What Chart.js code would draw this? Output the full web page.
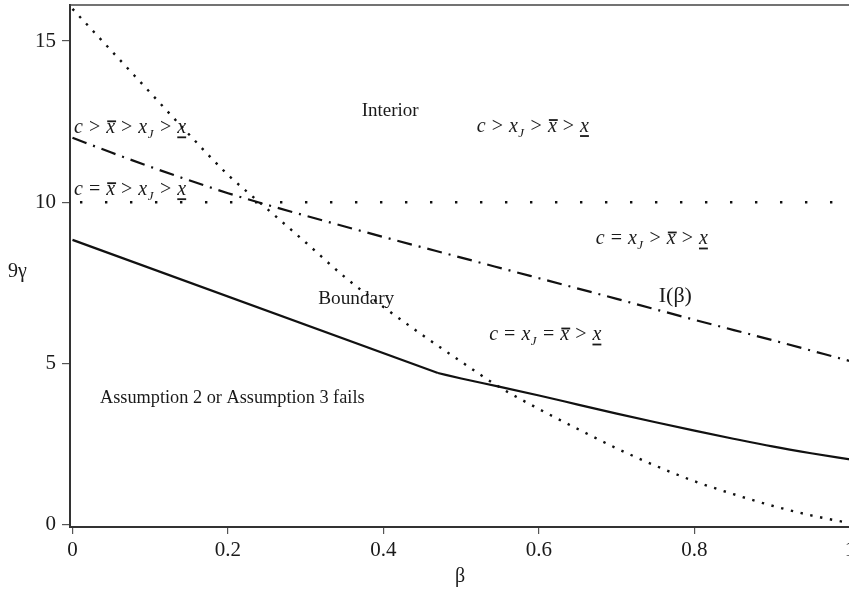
<!DOCTYPE html>
<html>
<head>
<meta charset="utf-8">
<script src="https://cdn.jsdelivr.net/npm/chart.js@4.4.1/dist/chart.umd.min.js"></script>
<style>
  html, body { margin: 0; padding: 0; overflow: hidden; background: #fff; }
  #wrap { position: relative; width: 870px; height: 589px; }
</style>
</head>
<body>
<div id="wrap"><canvas id="chart" width="870" height="589"></canvas></div>
<script>
// beta values shared by the dotted curve
var betaGrid = [0, 0.05, 0.1, 0.15, 0.2, 0.25, 0.3, 0.35, 0.4, 0.45, 0.5,
                0.55, 0.6, 0.65, 0.7, 0.75, 0.8, 0.85, 0.9, 0.95, 1];

// dotted boundary curve
var boundaryCurve = [16.0, 14.7, 13.4, 12.1, 10.85, 9.80, 8.75, 7.68, 6.75, 5.88, 5.05,
                     4.25, 3.58, 2.96, 2.36, 1.82, 1.34, 0.94, 0.58, 0.28, 0.04];

// dash-dot I(beta)
var iBetaX = [0, 0.05, 0.1, 0.15, 0.2, 0.25, 0.3, 0.4, 0.5, 0.6, 0.7, 0.8, 0.9, 1];
var iBetaY = [12.0, 11.54, 11.1, 10.68, 10.28, 9.92, 9.58, 8.92, 8.28, 7.64, 7.0, 6.35, 5.72, 5.07];

// solid assumption line: straight part, then curved part after the kink at 0.47
var assumLineX = [0, 0.47];
var assumLineY = [8.83, 4.70];
var assumCurveX = [0.47, 0.5, 0.55, 0.6, 0.65, 0.7, 0.75, 0.8, 0.85, 0.9, 0.95, 1];
var assumCurveY = [4.70, 4.53, 4.27, 4.00, 3.72, 3.44, 3.17, 2.91, 2.66, 2.42, 2.21, 2.02];

// horizontal dotted line
var flatX = [0, 1];
var flatY = [10, 10];

var xTicks = [0, 0.2, 0.4, 0.6, 0.8, 1];
var xTickLabels = ['0', '0.2', '0.4', '0.6', '0.8', '1'];
var yTicks = [0, 5, 10, 15];
var yTickLabels = ['0', '5', '10', '15'];

var xTitle = 'β';
var yTitle = '9γ';
var regionLabels = ['Interior', 'Boundary', 'Assumption 2 or Assumption 3 fails', 'I(β)'];
var orderLabels = ['c > xbar > xJ > xlow', 'c = xbar > xJ > xlow', 'c > xJ > xbar > xlow',
                   'c = xJ > xbar > xlow', 'c = xJ = xbar > xlow'];

// where the texts sit, in data units
var regionPos = [[0.372, 12.68], [0.316, 6.85], [0.0354, 3.77], [0.754, 6.91]];
var regionSize = [19, 19.3, 18.3, 22];
var orderPos = [[0.002, 12.15], [0.002, 10.23], [0.52, 12.19], [0.673, 8.70], [0.536, 5.72]];

function pts(xs, ys) {
    return xs.map(function (x, i) { return { x: x, y: ys[i] }; });
}

var serif = '"Liberation Serif", "Times New Roman", serif';
var ink = '#1a1a1a';

function drawOrder(ctx, str, x, y) {
    var size = 20;
    str.split(' ').forEach(function (tok) {
        if (tok === '>' || tok === '=') {
            ctx.font = size + 'px ' + serif;
            var s = ' ' + tok + ' ';
            ctx.fillText(s, x + 1, y);
            x += ctx.measureText(s).width + 2;
            return;
        }
        ctx.font = 'italic ' + size + 'px ' + serif;
        var base = tok.charAt(0);
        var bw = ctx.measureText(base).width;
        ctx.fillText(base, x, y);
        if (tok === 'xbar') ctx.fillRect(x + 1, y - 12.5, bw, 1.8);
        if (tok === 'xlow') ctx.fillRect(x, y + 3.5, bw, 1.8);
        x += bw;
        if (tok === 'xJ') {
            ctx.font = 'italic 13px ' + serif;
            ctx.fillText('J', x + 0.5, y + 5);
            x += ctx.measureText('J').width + 1;
        }
    });
}

var textPlugin = {
    id: 'texts',
    afterDatasetsDraw: function (chart) {
        var ctx = chart.ctx;
        var xs = chart.scales.x, ys = chart.scales.y, a = chart.chartArea;
        ctx.save();
        // top frame line
        ctx.strokeStyle = '#444';
        ctx.lineWidth = 1.5;
        ctx.beginPath();
        ctx.moveTo(a.left, a.top);
        ctx.lineTo(a.right, a.top);
        ctx.stroke();

        ctx.fillStyle = ink;
        ctx.textAlign = 'left';
        ctx.textBaseline = 'alphabetic';
        regionLabels.forEach(function (t, i) {
            ctx.font = regionSize[i] + 'px ' + serif;
            ctx.fillText(t, xs.getPixelForValue(regionPos[i][0]), ys.getPixelForValue(regionPos[i][1]));
        });
        orderLabels.forEach(function (t, i) {
            drawOrder(ctx, t, xs.getPixelForValue(orderPos[i][0]), ys.getPixelForValue(orderPos[i][1]));
        });
        ctx.font = '20px ' + serif;
        ctx.fillText(yTitle, 8, ys.getPixelForValue(7.68));
        ctx.restore();
    }
};

var ctx = document.getElementById('chart').getContext('2d');

var myChart = new Chart(ctx, {
    type: 'line',
    data: {
        datasets: [{
            data: pts(assumLineX, assumLineY),
            borderColor: '#111',
            borderWidth: 2.2,
            pointRadius: 0,
        }, {
            data: pts(assumCurveX, assumCurveY),
            borderColor: '#111',
            borderWidth: 2.2,
            cubicInterpolationMode: 'monotone',
            pointRadius: 0,
        }, {
            data: pts(iBetaX, iBetaY),
            borderColor: '#111',
            borderWidth: 2.2,
            borderDash: [15, 7, 2, 7],
            cubicInterpolationMode: 'monotone',
            pointRadius: 0,
        }, {
            data: pts(betaGrid, boundaryCurve),
            borderColor: '#111',
            borderWidth: 2.4,
            borderDash: [2.4, 7.6],
            cubicInterpolationMode: 'monotone',
            pointRadius: 0,
        }, {
            data: pts(flatX, flatY),
            borderColor: '#111',
            borderWidth: 2.4,
            borderDash: [2.4, 22.6],
            borderDashOffset: 17.5,
            pointRadius: 0,
        }],
    },
    options: {
        responsive: false,
        animation: false,
        layout: { padding: { left: 0, top: 5, right: 20, bottom: 0 } },
        plugins: { legend: { display: false }, tooltip: { enabled: false } },
        scales: {
            x: {
                type: 'linear',
                min: -0.0032,
                max: 1,
                afterBuildTicks: function (s) { s.ticks = xTicks.map(function (v) { return { value: v }; }); },
                afterFit: function (s) { s.height = 62; s.paddingLeft = 0; s.paddingRight = 0; },
                ticks: {
                    autoSkip: false,
                    maxRotation: 0,
                    padding: 4,
                    color: ink,
                    font: { family: serif, size: 21 },
                    callback: function (v, i) { return xTickLabels[i]; },
                },
                grid: { drawOnChartArea: false, tickLength: 7, color: '#555', lineWidth: 1.2 },
                border: { color: '#333', width: 2 },
                title: { display: true, text: xTitle, color: ink, font: { family: serif, size: 20 }, padding: { top: 0, bottom: 0 } },
            },
            y: {
                min: -0.08,
                max: 16.12,
                afterBuildTicks: function (s) { s.ticks = yTicks.map(function (v) { return { value: v }; }); },
                afterFit: function (s) { s.width = 70; s.paddingTop = 0; s.paddingBottom = 0; },
                ticks: {
                    padding: 6,
                    color: ink,
                    font: { family: serif, size: 21 },
                    callback: function (v, i) { return yTickLabels[i]; },
                },
                grid: { drawOnChartArea: false, tickLength: 8, color: '#555', lineWidth: 1.2 },
                border: { color: '#333', width: 2 },
            },
        },
    },
    plugins: [textPlugin],
});
</script>
</body>
</html>
